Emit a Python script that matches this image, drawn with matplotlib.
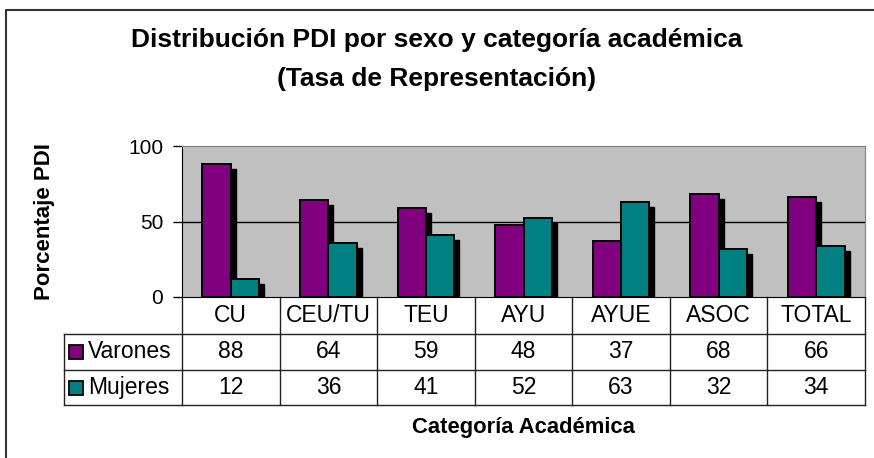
import matplotlib
matplotlib.use("Agg")
import matplotlib.pyplot as plt
import matplotlib.transforms as mtransforms
from matplotlib.lines import Line2D
from matplotlib.patches import Rectangle
import numpy as np

plt.rcParams['font.family'] = ['Liberation Sans', 'DejaVu Sans']

# data
categorias = ['CU', 'CEU/TU', 'TEU', 'AYU', 'AYUE', 'ASOC', 'TOTAL']
varones = [88, 64, 59, 48, 37, 68, 66]
mujeres = [12, 36, 41, 52, 63, 32, 34]
series = ['Varones', 'Mujeres']
colores = ['#800080', '#008080']

W, H = 874, 458
fig = plt.figure(figsize=(W / 100, H / 100), dpi=100)

def fx(x):
    return x / W

def fy(y):
    return 1 - y / H

# plot area (pixel box from the reference)
left, right, top, bottom = 182, 865, 146, 297
ax = fig.add_axes([fx(left), fy(bottom), fx(right - left), (bottom - top) / H])
ax.set_facecolor('#C0C0C0')

x = np.arange(len(categorias))
bw = 0.29

# shadows first
shadow = mtransforms.ScaledTranslation(5 / 100, -5 / 100, fig.dpi_scale_trans)
for vals, off in [(varones, -bw / 2), (mujeres, bw / 2)]:
    sb = ax.bar(x + off, vals, bw, color='black', edgecolor='black', zorder=2)
    for p in sb:
        p.set_transform(ax.transData + shadow)

ax.bar(x - bw / 2, varones, bw, color=colores[0], edgecolor='black', linewidth=1.4, zorder=3)
ax.bar(x + bw / 2, mujeres, bw, color=colores[1], edgecolor='black', linewidth=1.4, zorder=3)

ax.axhline(50, color='black', linewidth=1, zorder=1)
ax.set_xlim(-0.5, len(categorias) - 0.5)
ax.set_ylim(0, 100)
ax.set_yticks([0, 50, 100])
ax.tick_params(axis='y', direction='out', length=6.5, width=1, labelsize=15, pad=7)
ax.set_xticks([])
for s in ['top', 'right']:
    ax.spines[s].set_color('#808080')
ax.spines['left'].set_color('black')
ax.spines['bottom'].set_color('black')

fig.text(fx(45), fy((top + bottom) / 2), 'Porcentaje PDI', rotation=90,
         ha='center', va='center', fontsize=16, fontweight='bold')

# data table below the plot
tr = mtransforms.blended_transform_factory(ax.transData, ax.transAxes)
ph = bottom - top

def ay(y):
    return (bottom - y) / ph

rows = [334, 370, 405]
lc = '#202020'
lx = (64 - left) / (right - left)
for r in rows:
    ax.add_artist(Line2D([lx, 1], [ay(r), ay(r)], transform=ax.transAxes,
                         color=lc, linewidth=1, clip_on=False))
ax.add_artist(Line2D([lx, lx], [ay(rows[0]), ay(rows[2])], transform=ax.transAxes,
                     color=lc, linewidth=1, clip_on=False))
for b in np.arange(len(categorias) + 1) - 0.5:
    ax.add_artist(Line2D([b, b], [0, ay(rows[2])], transform=tr,
                         color=lc, linewidth=1, clip_on=False))

yh = ay((bottom + rows[0]) / 2)
yr = [ay((rows[0] + rows[1]) / 2), ay((rows[1] + rows[2]) / 2)]
for i, c in enumerate(categorias):
    ax.text(i, yh, c, transform=tr, ha='center', va='center', fontsize=16.5)
    ax.text(i, yr[0], str(varones[i]), transform=tr, ha='center', va='center', fontsize=16.5)
    ax.text(i, yr[1], str(mujeres[i]), transform=tr, ha='center', va='center', fontsize=16.5)

for k, (nm, col) in enumerate(zip(series, colores)):
    yc = (rows[k] + rows[k + 1]) / 2
    fig.add_artist(Rectangle((fx(69), fy(yc + 7)), fx(14), 14 / H, facecolor=col,
                             edgecolor='black', linewidth=1.3, transform=fig.transFigure))
    fig.text(fx(88), fy(yc), nm, ha='left', va='center', fontsize=16.5)

# titles
fig.text(0.5, fy(40), 'Distribución PDI por sexo y categoría académica',
         ha='center', va='center', fontsize=19, fontweight='bold')
fig.text(0.5, fy(79), '(Tasa de Representación)',
         ha='center', va='center', fontsize=19, fontweight='bold')
fig.text(fx((left + right) / 2), fy(428), 'Categoría Académica',
         ha='center', va='center', fontsize=15.8, fontweight='bold')

# chart frame (runs off the right and bottom edges)
fig.add_artist(Line2D([fx(6), fx(6), 1.01], [-0.01, fy(10), fy(10)],
                      transform=fig.transFigure, color='#333333', linewidth=1.5))

fig.savefig('out.png', dpi=100)
